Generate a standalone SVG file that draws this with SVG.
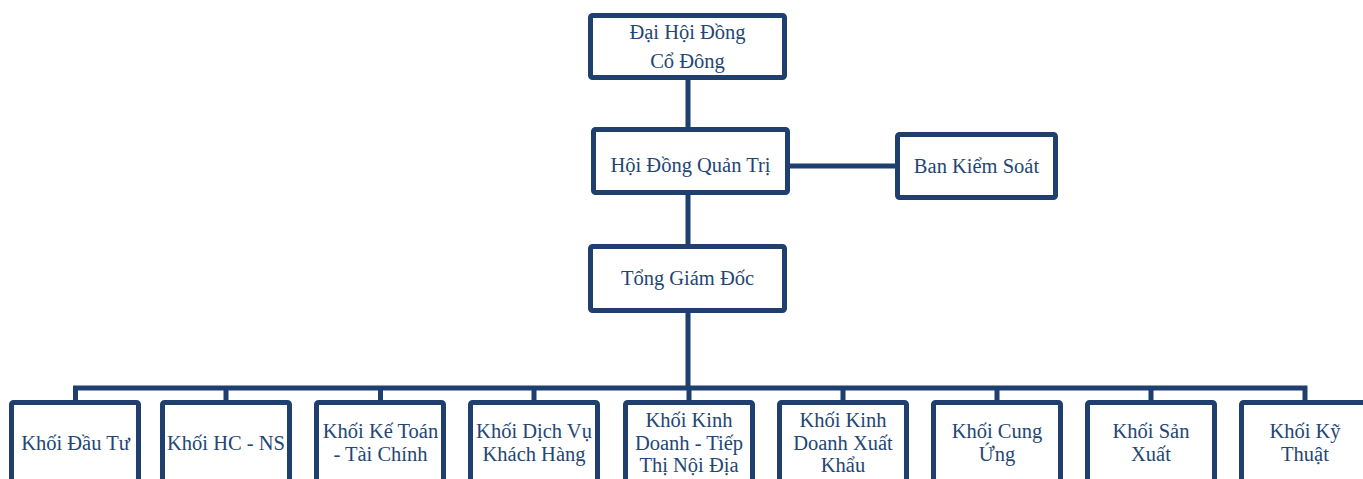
<svg xmlns="http://www.w3.org/2000/svg" width="1363" height="479" viewBox="0 0 1363 479">
<style>
.box{fill:#ffffff;stroke:#1f3f6e;stroke-width:5}
.t{font-family:'Liberation Serif','Times New Roman','DejaVu Serif',serif;font-size:20.5px;fill:#234674;text-anchor:middle}
.c{fill:none;stroke:#1f3f6e;stroke-width:5}
</style>
<rect width="1363" height="479" fill="#ffffff"/>
<g id="connectors">
<path class="c" d="M688 80V127M688 195V244M688 313V388M790 166H895"/>
<path class="c" stroke-width="6" d="M75.5 400V388H1305V400M226 388V400M380.5 388V400M534 388V400M689 388V400M843 388V400M997 388V400M1151 388V400"/>
</g>
<g id="dhdcd"><rect class="box" x="590.5" y="15.5" width="194" height="62" rx="2"/><text class="t" x="687.5" y="39">Đại Hội Đồng</text><text class="t" x="687.5" y="68">Cổ Đông</text></g>
<g id="hdqt"><rect class="box" x="593.5" y="129.5" width="194" height="63" rx="2"/><text class="t" x="690.5" y="172">Hội Đồng Quản Trị</text></g>
<g id="bks"><rect class="box" x="897.5" y="134.5" width="158" height="63" rx="2"/><text class="t" x="976.5" y="173">Ban Kiểm Soát</text></g>
<g id="tgd"><rect class="box" x="590.5" y="246.5" width="194" height="64" rx="2"/><text class="t" x="687.5" y="285">Tổng Giám Đốc</text></g>
<g id="k1"><rect class="box" x="11.5" y="402.5" width="127" height="100" rx="2"/><text class="t" x="75.5" y="450">Khối Đầu Tư</text></g>
<g id="k2"><rect class="box" x="162.5" y="402.5" width="127" height="100" rx="2"/><text class="t" x="226" y="450">Khối HC - NS</text></g>
<g id="k3"><rect class="box" x="316.5" y="402.5" width="127" height="100" rx="2"/><text class="t" x="380.5" y="438">Khối Kế Toán</text><text class="t" x="380.5" y="461">- Tài Chính</text></g>
<g id="k4"><rect class="box" x="470.5" y="402.5" width="127" height="100" rx="2"/><text class="t" x="534" y="438">Khối Dịch Vụ</text><text class="t" x="534" y="461">Khách Hàng</text></g>
<g id="k5"><rect class="box" x="625.5" y="402.5" width="127" height="100" rx="2"/><text class="t" x="689" y="427">Khối Kinh</text><text class="t" x="689" y="450">Doanh - Tiếp</text><text class="t" x="689" y="472">Thị Nội Địa</text></g>
<g id="k6"><rect class="box" x="779.5" y="402.5" width="127" height="100" rx="2"/><text class="t" x="843" y="427">Khối Kinh</text><text class="t" x="843" y="450">Doanh Xuất</text><text class="t" x="843" y="472">Khẩu</text></g>
<g id="k7"><rect class="box" x="933.5" y="402.5" width="127" height="100" rx="2"/><text class="t" x="997" y="438">Khối Cung</text><text class="t" x="997" y="461">Ứng</text></g>
<g id="k8"><rect class="box" x="1087.5" y="402.5" width="127" height="100" rx="2"/><text class="t" x="1151" y="438">Khối Sản</text><text class="t" x="1151" y="461">Xuất</text></g>
<g id="k9"><rect class="box" x="1241.5" y="402.5" width="127" height="100" rx="2"/><text class="t" x="1305" y="438">Khối Kỹ</text><text class="t" x="1305" y="461">Thuật</text></g>
</svg>
